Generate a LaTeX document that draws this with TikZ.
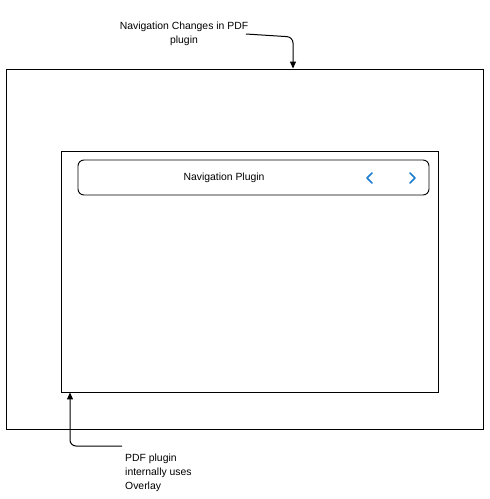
\documentclass[tikz,border=0pt]{standalone}
\usepackage{fontspec}
\setmainfont{Liberation Sans}
\usetikzlibrary{arrows.meta}
\definecolor{chev}{HTML}{1A7BD0}
\begin{document}
\begin{tikzpicture}[x=1pt,y=-1pt,
  box/.style={draw=black,line width=0.9pt},
  lbl/.style={font=\fontsize{10.4}{14}\selectfont,inner sep=0pt,align=center},
  conn/.style={draw=black,line width=1pt,-{Triangle[length=7pt,width=6pt]},rounded corners=6pt},
  chevs/.style={draw=chev,line width=1.7pt,line cap=round,line join=round}]
\useasboundingbox (0,0) rectangle (490,499);
\node[box,minimum width=477pt,minimum height=360pt,inner sep=0pt] (outer) at (244.5,249) {};
\node[box,minimum width=377pt,minimum height=241pt,inner sep=0pt] (inner) at (249.5,271.5) {};
\node[box,rounded corners=6pt,minimum width=351pt,minimum height=35pt,inner sep=0pt] (bar) at (253.5,177.5) {};
\node[lbl] (navtxt) at (224,178) {Navigation Plugin};
\coordinate (lc) at (369,178);
\coordinate (rc) at (413,178);
\draw[chevs] ([xshift=3pt,yshift=-5pt]lc) -- ([xshift=-2pt]lc) -- ([xshift=3pt,yshift=5pt]lc);
\draw[chevs] ([xshift=-3pt,yshift=-5pt]rc) -- ([xshift=2pt]rc) -- ([xshift=-3pt,yshift=5pt]rc);
\node[lbl] (top) at (184,33.5) {Navigation Changes in PDF\\plugin};
\node[lbl,align=left,anchor=north west] (bot) at (125,454) {PDF plugin\\internally uses\\Overlay};
\coordinate (t1) at (246,34);
\coordinate (t2) at (293,37);
\coordinate (b1) at (122,446);
\coordinate (b2) at (70,446);
\draw[conn] (t1) -- (t2) -- (t2 |- outer.north);
\draw[conn] (b1) -- (b2) -- (b2 |- inner.south);
\end{tikzpicture}
\end{document}
